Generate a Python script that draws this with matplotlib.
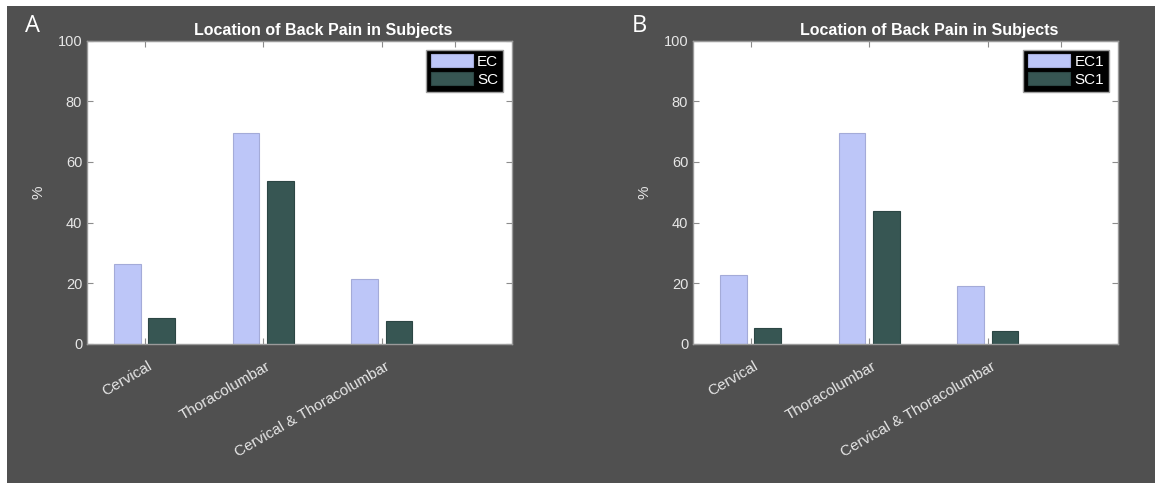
import matplotlib.pyplot as plt
from matplotlib.patches import Rectangle
import matplotlib.transforms as mtransforms
import numpy as np

# percentage of subjects per back pain location
categories = ['Cervical', 'Thoracolumbar', 'Cervical & Thoracolumbar']

ec_a = [26.3, 69.5, 21.4]
sc_a = [8.4, 53.8, 7.7]

ec_b = [22.6, 69.5, 19.1]
sc_b = [5.2, 43.7, 4.1]

# tick marks along the top edge (one extra beyond the last group)
top_ticks = [1, 2, 3, 3.62]

panels = [
	('A', ['EC', 'SC'], ec_a, sc_a),
	('B', ['EC1', 'SC1'], ec_b, sc_b),
]

bg = '#505050'
txt = '#e6e6e6'
ec_color = '#bdc6f8'
sc_color = '#375653'

plt.rcParams['font.family'] = ['Liberation Sans', 'DejaVu Sans']

fig = plt.figure(figsize=(11.55, 4.83), dpi=100, facecolor='white')
# dark background with a thin white margin on the left and top
fig.patches.append(Rectangle((7 / 1155, 0), 1, 1 - 6 / 483, transform=fig.transFigure,
	facecolor=bg, edgecolor='none', zorder=-1))

lefts = [87 / 1155, 693 / 1155]
x = np.arange(1, len(categories) + 1)

for left, (letter, names, ec, sc) in zip(lefts, panels):
	ax = fig.add_axes([left, 0.288, 0.368, 0.628])
	ax.set_facecolor('white')

	ax.bar(x - 0.145, ec, width=0.224, color=ec_color, edgecolor='#a4abd8', linewidth=0.8, label=names[0])
	ax.bar(x + 0.145, sc, width=0.224, color=sc_color, edgecolor='#2c4644', linewidth=0.8, label=names[1])

	ax.set_xlim(0.515, 4.1)
	ax.set_ylim(0, 100)
	ax.set_yticks(np.arange(0, 101, 20))
	ax.tick_params(axis='y', labelsize=10.5, labelcolor=txt)
	ax.tick_params(direction='in', length=4, color='#8c8c8c', top=False, right=True, width=0.8)
	ax.tick_params(axis='x', pad=11)
	ax.set_xticks(x)
	ax.set_xticklabels(categories, rotation=30, ha='right', va='top', rotation_mode='anchor',
		fontsize=11, color=txt)
	# nudge the slanted labels a few pixels to the right
	shift = mtransforms.ScaledTranslation(3 / 100, 0, fig.dpi_scale_trans)
	for lab in ax.get_xticklabels():
		lab.set_transform(lab.get_transform() + shift)
	for s in ax.spines.values():
		s.set_color('#9a9a9a')
		s.set_linewidth(1)

	top = ax.secondary_xaxis('top')
	top.set_xticks(top_ticks)
	top.tick_params(direction='in', length=4, color='#8c8c8c', width=0.8, labeltop=False)
	top.spines['top'].set_color('#9a9a9a')

	ax.set_ylabel('%', color=txt, fontsize=11, labelpad=9)

	# title sits a little right of the axes centre
	ax.text(0.555, 1.008, 'Location of Back Pain in Subjects', transform=ax.transAxes,
		ha='center', va='bottom', fontsize=11.5, fontweight='bold', color='white')

	leg = ax.legend(loc='upper right', fontsize=11, frameon=True, fancybox=False,
		handlelength=2.75, handleheight=0.95, handletextpad=0.3, labelspacing=0.2,
		borderpad=0.3, borderaxespad=0.6)
	leg.get_frame().set_facecolor('black')
	leg.get_frame().set_edgecolor('#a0a0a0')
	leg.get_frame().set_alpha(1)
	for t in leg.get_texts():
		t.set_color('white')

	fig.text(left - 54 / 1155, 1 - 26 / 483, letter, fontsize=17, color='white',
		family=['Open Sans', 'DejaVu Sans'], ha='center', va='center')

plt.savefig('out.png', dpi=100, facecolor=fig.get_facecolor())
